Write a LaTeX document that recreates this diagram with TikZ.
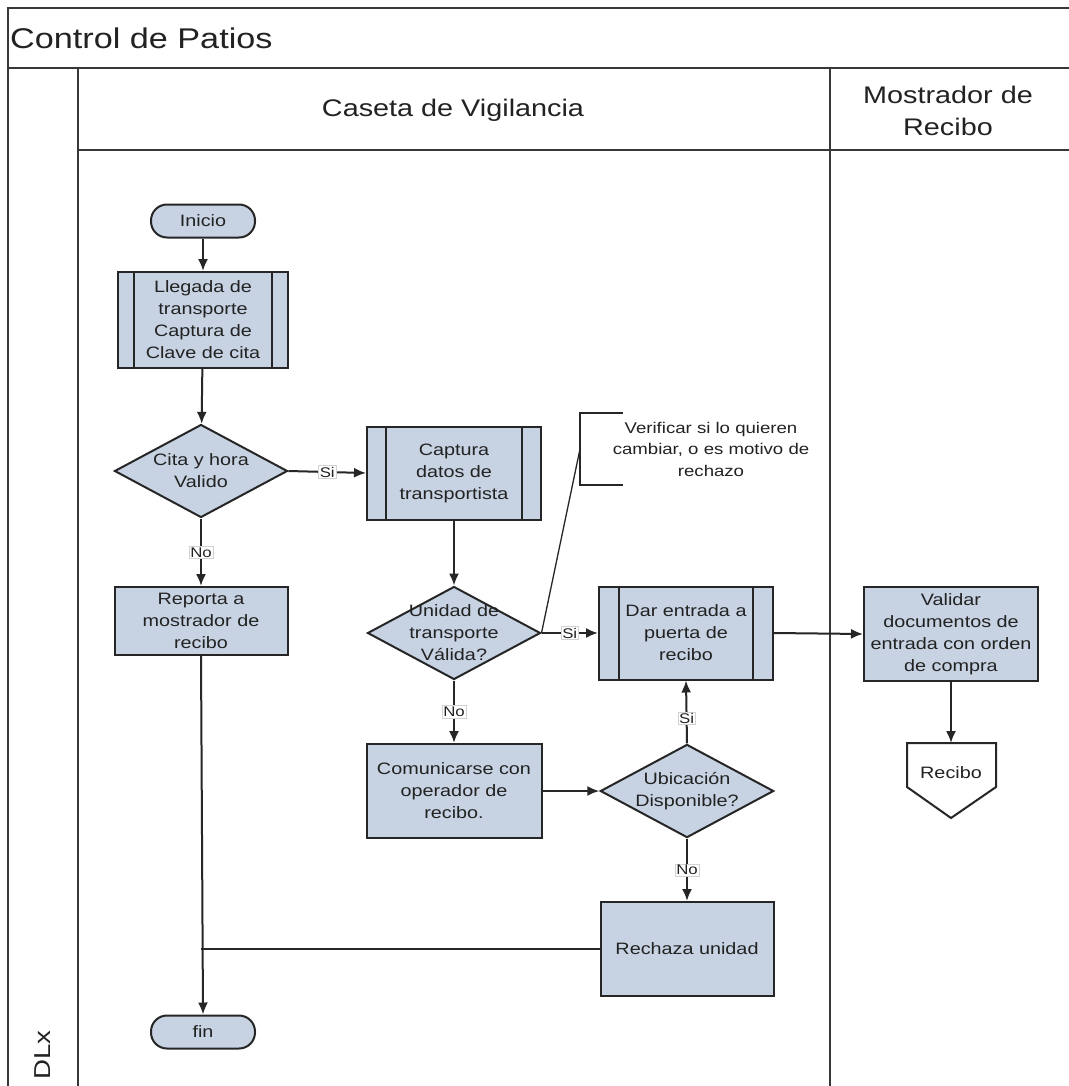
\documentclass[tikz,border=0pt]{standalone}
\usepackage{fontspec}
\setmainfont{Liberation Sans}[FakeStretch=1.2]
\usetikzlibrary{shapes.geometric,arrows.meta}
\definecolor{boxfill}{HTML}{C7D3E3}
\definecolor{edge}{HTML}{262626}
\definecolor{lanes}{HTML}{383838}
\definecolor{ink}{HTML}{222222}
\tikzset{
  base/.style={draw=edge, line width=2pt, fill=boxfill, text=ink, font=\fontsize{16.5}{22}\selectfont, align=center},
  procbox/.style={base, rectangle, inner sep=1pt},
  termbox/.style={base, rectangle, rounded corners=16pt, minimum width=104pt, minimum height=33pt, inner sep=0pt},
  decbox/.style={base, diamond, inner sep=0pt, minimum width=173pt, minimum height=93pt, aspect=1.86},
  arr/.style={draw=edge, line width=2pt, -{Latex[length=12pt,width=10pt]}},
  conn/.style={draw=edge, line width=2pt},
  lbl/.style={fill=white, draw=gray!35, line width=0.4pt, inner sep=1.2pt, text=ink, font=\fontsize{14}{16}\selectfont},
  lane/.style={draw=lanes, line width=2.6pt}
}
\begin{document}
\begin{tikzpicture}[x=1pt,y=-1pt]
\useasboundingbox (0,0) rectangle (1068,1086);
\fill[white] (0,0) rectangle (1068,1086);

% pool frame and lanes
\draw[lane] (1075,8) -- (8,8) -- (8,1095);
\draw[lane] (8,68) -- (1075,68);
\draw[lane] (78,68) -- (78,1095);
\draw[lane] (78,150) -- (1075,150);
\draw[lane] (830,68) -- (830,1095);

\node[anchor=west, inner sep=0pt, text=ink, font=\fontsize{28.5}{32}\selectfont] (pool) at (10,38) {Control de Patios};
\node[text=ink, font=\fontsize{24}{32}\selectfont] (laneA) at (453,110) {Caseta de Vigilancia};
\node[text=ink, font=\fontsize{24}{32}\selectfont, align=center] (laneB) at (948,111) {Mostrador de\\Recibo};
\node[text=ink, font=\fontsize{23}{26}\selectfont, rotate=90] (dlx) at (43,1055) {DLx};

% flow nodes
\node[termbox] (inicio) at (203,221) {Inicio};
\node[procbox, minimum width=170pt, minimum height=96pt] (lleg) at (203,320) {Llegada de\\transporte\\Captura de\\Clave de cita};
\node[decbox] (cita) at (201,471) {Cita y hora\\Valido};
\node[procbox, minimum width=173pt, minimum height=68pt] (rep) at (201,621) {Reporta a\\mostrador de\\recibo};
\node[termbox] (fin) at (203,1032) {fin};

\node[procbox, minimum width=174pt, minimum height=93pt] (cap) at (454,473) {Captura\\datos de\\transportista};
\node[decbox, inner sep=-14pt] (unid) at (454,633) {Unidad de\\transporte\\Válida?};
\node[procbox, minimum width=175pt, minimum height=94pt] (com) at (454,791) {Comunicarse con\\operador de\\recibo.};

\node[procbox, minimum width=174pt, minimum height=93pt] (dar) at (686,633) {Dar entrada a\\puerta de\\recibo};
\node[decbox, minimum width=172pt] (ubi) at (687,791) {Ubicación\\Disponible?};
\node[procbox, minimum width=173pt, minimum height=94pt] (rech) at (687,949) {Rechaza unidad};

\node[procbox, minimum width=174pt, minimum height=94pt] (val) at (951,634) {Validar\\documentos de\\entrada con orden\\de compra};

% off-page connector
\draw[edge, line width=2pt, fill=white] (907,743) -- (996,743) -- (996,787) -- (951,818) -- (907,787) -- cycle;
\node[text=ink, font=\fontsize{16.5}{22}\selectfont] (recibo) at (951,773) {Recibo};
\coordinate (recibotop) at (951,743);

% side bars of the predefined process boxes
\foreach \n/\d in {lleg/17, cap/20, dar/21}{
  \draw[conn] ([xshift=\d pt]\n.north west) -- ([xshift=\d pt]\n.south west);
  \draw[conn] ([xshift=-\d pt]\n.north east) -- ([xshift=-\d pt]\n.south east);
}

% annotation
\node[text=ink, font=\fontsize{15.5}{21.5}\selectfont, align=center] (note) at (711,449) {Verificar si lo quieren\\cambiar, o es motivo de\\rechazo};
\coordinate (brk) at (580,449);
\draw[conn] (623,413) -- (580,413) -- (580,485) -- (623,485);
\draw[conn, line width=1.3pt] (unid.east) -- (brk);

% connectors
\draw[arr] (inicio) -- (lleg);
\draw[arr] (lleg) -- (cita);
\draw[arr] (cita.east) -- node[lbl] {Si} (cap.west);
\draw[arr] (cita.south) -- node[lbl] {No} (rep.north);
\draw[arr] (rep.south) -- (fin.north);
\draw[arr] (cap.south) -- (unid.north);
\draw[arr] (unid.east) -- node[lbl] {Si} (dar.west);
\draw[arr] (unid.south) -- node[lbl] {No} (com.north);
\draw[arr] (com.east) -- (ubi.west);
\draw[arr] (ubi.north) -- node[lbl, pos=0.4] {Si} (dar.south);
\draw[arr] (ubi.south) -- node[lbl] {No} (rech.north);
\draw[conn] (rech.west) -- (rech.west -| rep.south);
\draw[arr] (dar.east) -- (val.west);
\draw[arr] (val.south) -- (recibotop);
\end{tikzpicture}
\end{document}
